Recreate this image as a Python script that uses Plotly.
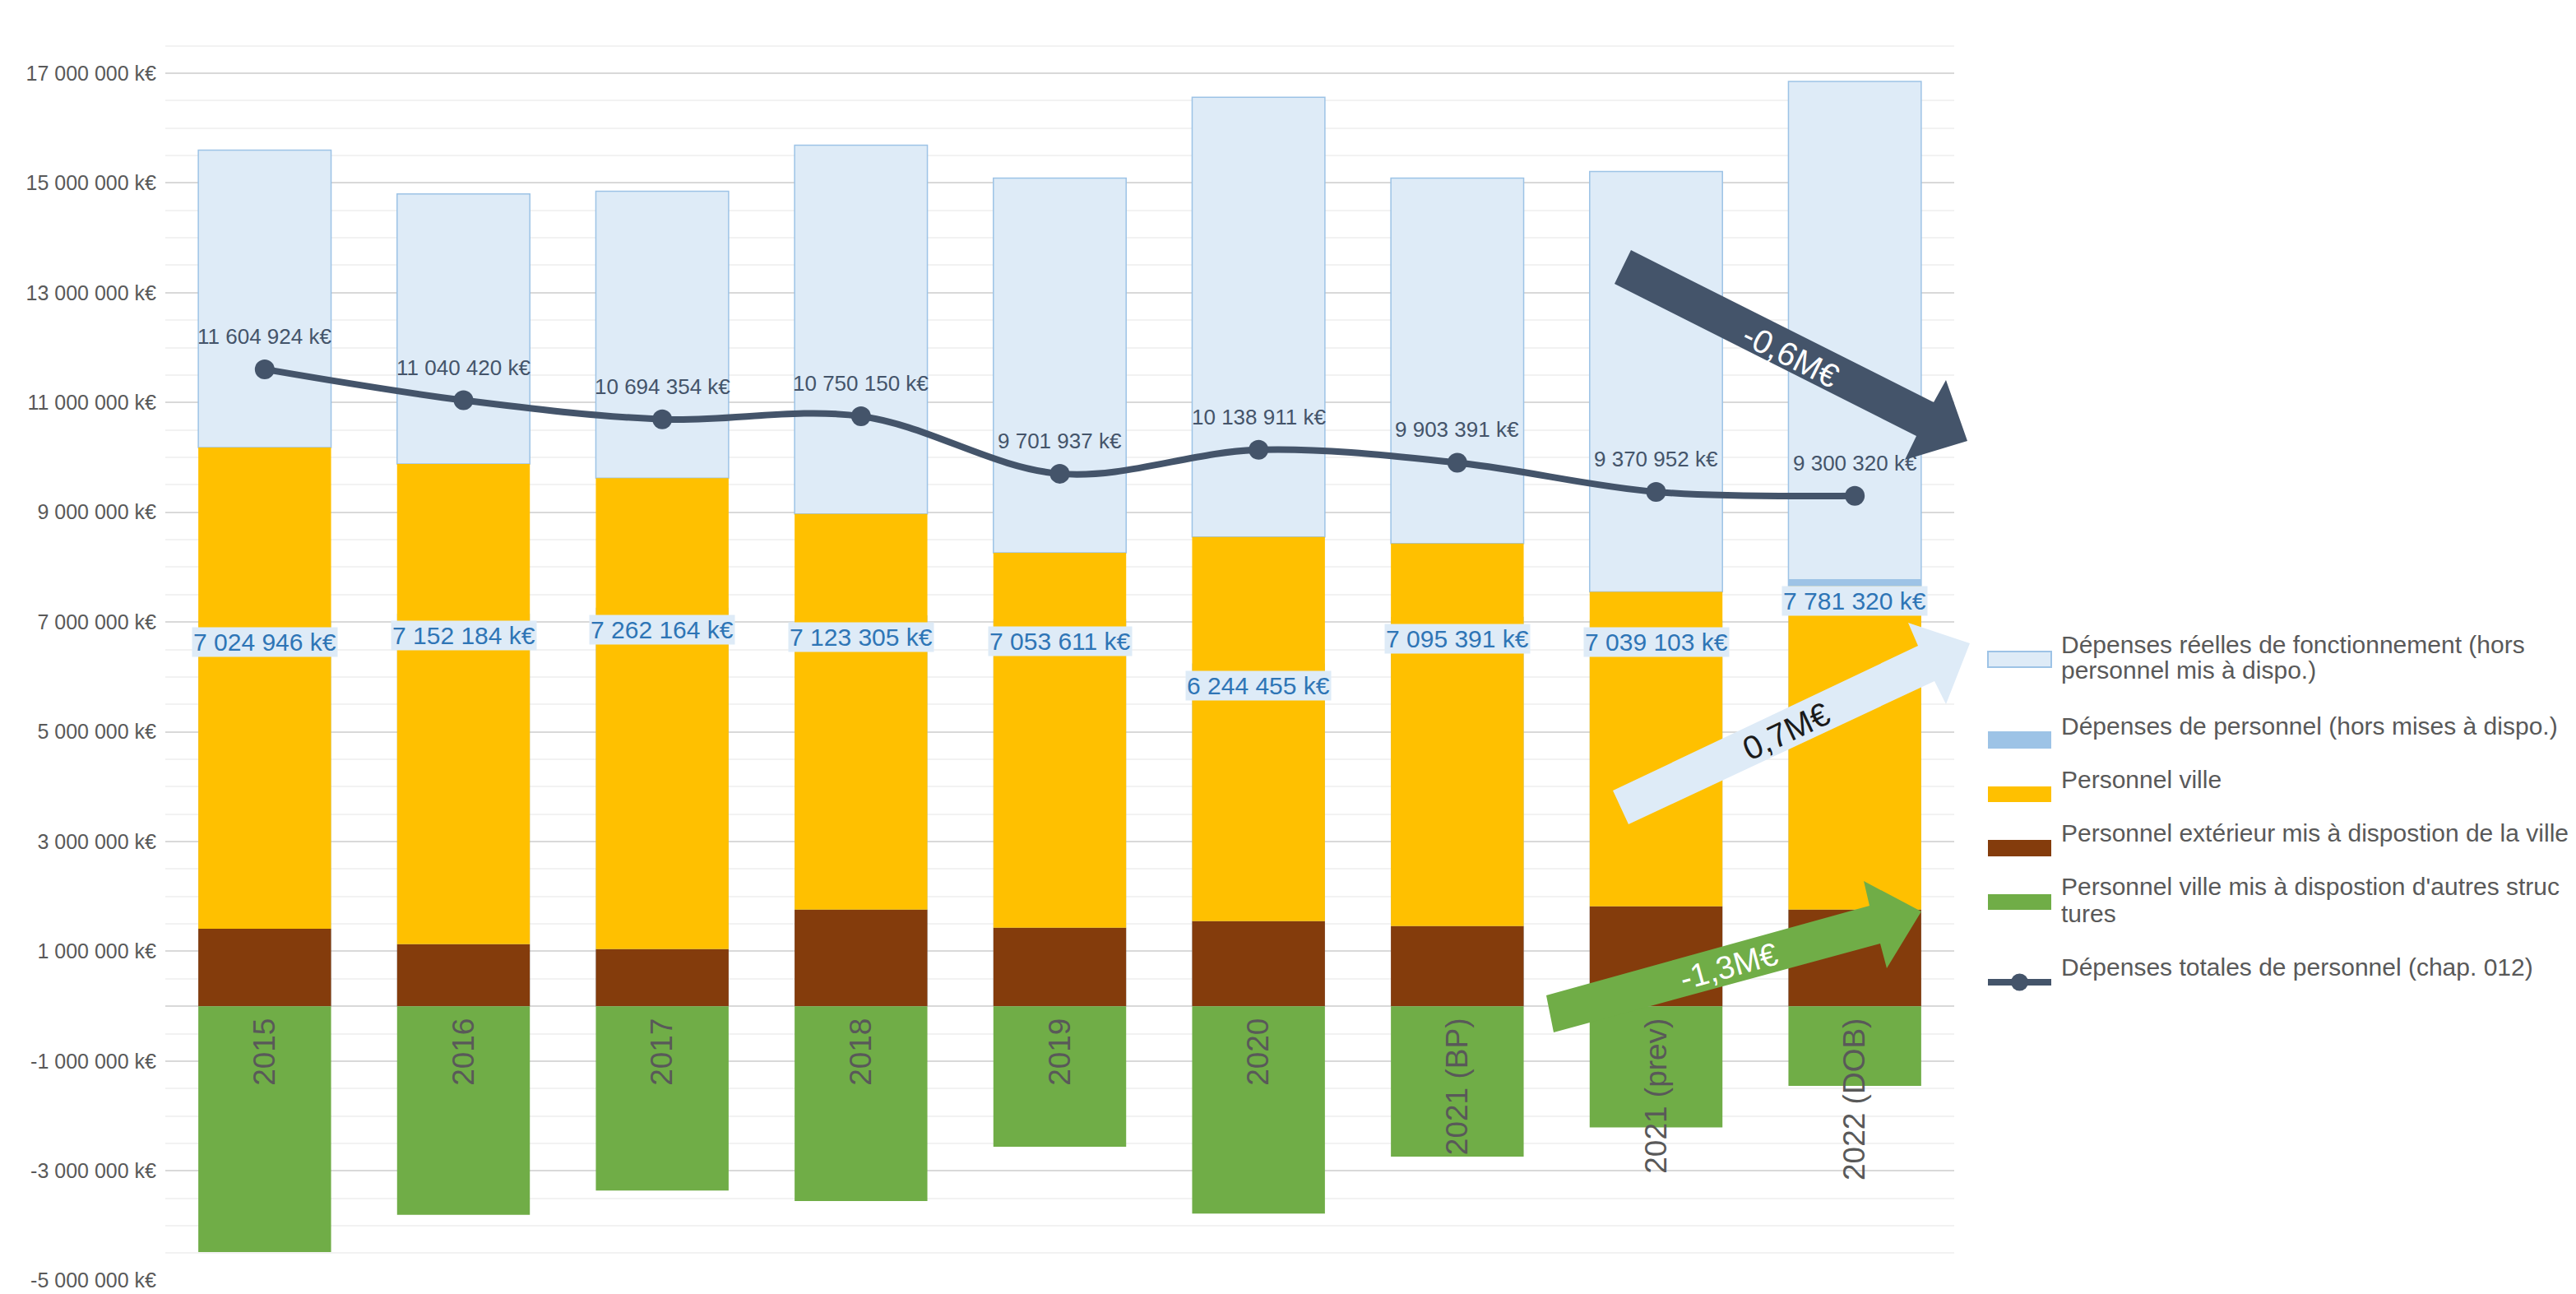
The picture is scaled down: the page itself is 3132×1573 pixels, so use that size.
import plotly.graph_objects as go

# ---------------- data ----------------
categories = ["2015", "2016", "2017", "2018", "2019", "2020", "2021 (BP)", "2021 (prev)", "2022 (DOB)"]

personnel_exterieur = [1410000, 1130000, 1040000, 1760000, 1430000, 1550000, 1460000, 1820000, 1760000]
personnel_ville = [8770000, 8750000, 8580000, 7210000, 6830000, 7000000, 6970000, 5730000, 5890000]
depenses_fonctionnement = [5420000, 4920000, 5230000, 6720000, 6830000, 8010000, 6660000, 7660000, 9200000]
personnel_mis_a_dispo_autres = [-4480000, -3800000, -3360000, -3550000, -2560000, -3780000, -2740000, -2210000, -1450000]
depenses_personnel = [7024946, 7152184, 7262164, 7123305, 7053611, 6244455, 7095391, 7039103, 7781320]
depenses_totales = [11604924, 11040420, 10694354, 10750150, 9701937, 10138911, 9903391, 9370952, 9300320]

ytick_values = [-5000000, -3000000, -1000000, 1000000, 3000000, 5000000, 7000000,
                9000000, 11000000, 13000000, 15000000, 17000000]

series_names = [
    "Dépenses réelles de fonctionnement (hors personnel mis à dispo.)",
    "Dépenses de personnel (hors mises à dispo.)",
    "Personnel ville",
    "Personnel extérieur mis à dispostion de la ville",
    "Personnel ville mis à dispostion d'autres structures",
    "Dépenses totales de personnel (chap. 012)",
]
legend_lines = [
    ["Dépenses réelles de fonctionnement (hors", "personnel mis à dispo.)"],
    ["Dépenses de personnel (hors mises à dispo.)"],
    ["Personnel ville"],
    ["Personnel extérieur mis à dispostion de la ville"],
    ["Personnel ville mis à dispostion d'autres struc", "tures"],
    ["Dépenses totales de personnel (chap. 012)"],
]

# ---------------- styles ----------------
C_LIGHT = "#DEEBF7"
C_LIGHT_LINE = "#9DC3E6"
C_MED = "#9DC3E6"
C_YELLOW = "#FFC000"
C_BROWN = "#843C0C"
C_GREEN = "#70AD47"
C_LINE = "#44546A"
C_TEXT = "#595959"
FONT = "Liberation Sans, Arial, sans-serif"

W, H = 3132, 1573
L, R = 201, 2376
T, B = 22, 1557


def px(x):
    return (x - L) / (R - L)


def py(y):
    return (B - y) / (B - T)


def fmt(v):
    s = f"{abs(int(v)):,}".replace(",", " ")
    return ("-" if v < 0 else "") + s + " k€"


idx = list(range(len(categories)))
yellow_top = [a + b for a, b in zip(personnel_exterieur, personnel_ville)]
zeros = [0] * len(categories)

fig = go.Figure()

fig.add_trace(go.Bar(
    x=idx, y=depenses_fonctionnement, base=yellow_top, name=series_names[0],
    marker=dict(color=C_LIGHT, line=dict(color=C_LIGHT_LINE, width=1.5)), showlegend=False))
fig.add_trace(go.Bar(
    x=idx, y=depenses_personnel, base=zeros, name=series_names[1],
    marker=dict(color=C_MED, line=dict(width=0)), showlegend=False))
fig.add_trace(go.Bar(
    x=idx, y=personnel_exterieur, base=zeros, name=series_names[3],
    marker=dict(color=C_BROWN, line=dict(width=0)), showlegend=False))
fig.add_trace(go.Bar(
    x=idx, y=personnel_ville, base=personnel_exterieur, name=series_names[2],
    marker=dict(color=C_YELLOW, line=dict(width=0)), showlegend=False))
fig.add_trace(go.Bar(
    x=idx, y=personnel_mis_a_dispo_autres, base=zeros, name=series_names[4],
    marker=dict(color=C_GREEN, line=dict(width=0)), showlegend=False))
fig.add_trace(go.Scatter(
    x=idx, y=depenses_totales, name=series_names[5], mode="lines+markers",
    line=dict(color=C_LINE, width=8, shape="spline", smoothing=1.0),
    marker=dict(color=C_LINE, size=24), showlegend=False))

annotations = []
for i, v in zip(idx, depenses_totales):
    annotations.append(dict(x=i, y=v, xref="x", yref="y", text=fmt(v), showarrow=False,
                            yanchor="middle", yshift=40,
                            font=dict(family=FONT, size=26, color=C_LINE)))
for i, v in zip(idx, depenses_personnel):
    annotations.append(dict(x=i, y=v, xref="x", yref="y", text=fmt(v), showarrow=False,
                            yanchor="top", yshift=-8, bgcolor=C_LIGHT, borderpad=1,
                            font=dict(family=FONT, size=30, color="#2E75B6")))


def path(points):
    return "M " + " L ".join(f"{px(x):.5f},{py(y):.5f}" for x, y in points) + " Z"


arrow1 = [(1983, 304), (2351, 489), (2366, 462), (2392, 536), (2316, 559), (2330, 530), (1963, 345)]
arrow2 = [(1980, 1002), (1961, 961), (2332, 785), (2320, 757), (2395, 782), (2366, 856), (2352, 828)]
arrow3 = [(1880, 1210), (2273, 1101), (2266, 1071), (2336, 1108), (2294, 1177), (2286, 1147), (1889, 1255)]

shapes = []
for pts, col in [(arrow1, C_LINE), (arrow2, C_LIGHT), (arrow3, C_GREEN)]:
    shapes.append(dict(type="path", xref="paper", yref="paper", path=path(pts),
                       fillcolor=col, line=dict(width=0), layer="above"))

for txt, (x, y), ang, col, size in [
    ("-0,6M€", (2177, 432), 26.7, "white", 40),
    ("0,7M€", (2171, 889), -25.3, "#1A1A1A", 40),
    ("-1,3M€", (2102, 1174), -15.5, "white", 39),
]:
    annotations.append(dict(x=px(x), y=py(y), xref="paper", yref="paper", text=txt, showarrow=False,
                            textangle=ang, xanchor="center", yanchor="middle",
                            font=dict(family=FONT, size=size, color=col)))

# ---------------- custom legend ----------------
leg_rect_x0, leg_rect_x1, leg_text_x = 2417, 2494, 2504
leg_items = [
    (C_LIGHT, C_LIGHT_LINE, (792, 811), [783, 815]),
    (C_MED, None, (889, 910), [882]),
    (C_YELLOW, None, (956, 975), [947]),
    (C_BROWN, None, (1021, 1041), [1012]),
    (C_GREEN, None, (1087, 1106), [1077, 1110]),
]
for (fill, border, (y0, y1), text_ys), lines in zip(leg_items, legend_lines[:5]):
    shapes.append(dict(type="rect", xref="paper", yref="paper",
                       x0=px(leg_rect_x0), x1=px(leg_rect_x1), y0=py(y1), y1=py(y0),
                       fillcolor=fill,
                       line=dict(color=border if border else fill, width=2 if border else 0)))
    for ln, ty in zip(lines, text_ys):
        annotations.append(dict(x=px(leg_text_x), y=py(ty), xref="paper", yref="paper", text=ln,
                                showarrow=False, xanchor="left", yanchor="middle",
                                font=dict(family=FONT, size=30, color=C_TEXT)))
shapes.append(dict(type="line", xref="paper", yref="paper", x0=px(2417), x1=px(2494),
                   y0=py(1194), y1=py(1194), line=dict(color=C_LINE, width=8)))
shapes.append(dict(type="circle", xref="paper", yref="paper", x0=px(2445), x1=px(2466),
                   y0=py(1204.5), y1=py(1183.5), fillcolor=C_LINE, line=dict(width=0)))
annotations.append(dict(x=px(leg_text_x), y=py(1175), xref="paper", yref="paper", text=legend_lines[5][0],
                        showarrow=False, xanchor="left", yanchor="middle",
                        font=dict(family=FONT, size=30, color=C_TEXT)))

y_min, y_max = -5004000, 18004000
zero_pos = (0 - y_min) / (y_max - y_min)

fig.update_layout(
    width=W, height=H,
    margin=dict(l=L, r=W - R, t=T, b=H - B, autoexpand=False),
    paper_bgcolor="white", plot_bgcolor="white",
    barmode="overlay", bargap=0.332,
    showlegend=False,
    font=dict(family=FONT, color=C_TEXT),
    annotations=annotations,
    shapes=shapes,
    xaxis=dict(
        range=[-0.5, len(categories) - 0.5],
        tickmode="array", tickvals=idx, ticktext=categories,
        anchor="free", position=zero_pos,
        showgrid=False, showline=False, zeroline=False, ticks="",
        tickangle=-90, ticklabelstandoff=6,
        tickfont=dict(family=FONT, size=37, color=C_TEXT),
    ),
    yaxis=dict(
        range=[y_min, y_max],
        tickmode="array", tickvals=ytick_values, ticktext=[fmt(v) for v in ytick_values],
        tickfont=dict(family=FONT, size=25, color=C_TEXT),
        ticklabeloverflow="allow",
        showgrid=True, gridcolor="#D9D9D9", gridwidth=2,
        zeroline=True, zerolinecolor="#D9D9D9", zerolinewidth=2,
        showline=False, ticks="", ticklabelstandoff=10,
        minor=dict(tickmode="linear", tick0=0, dtick=500000, showgrid=True,
                   gridcolor="#F2F2F2", gridwidth=2, ticks=""),
    ),
)

fig.write_html("out.html")
